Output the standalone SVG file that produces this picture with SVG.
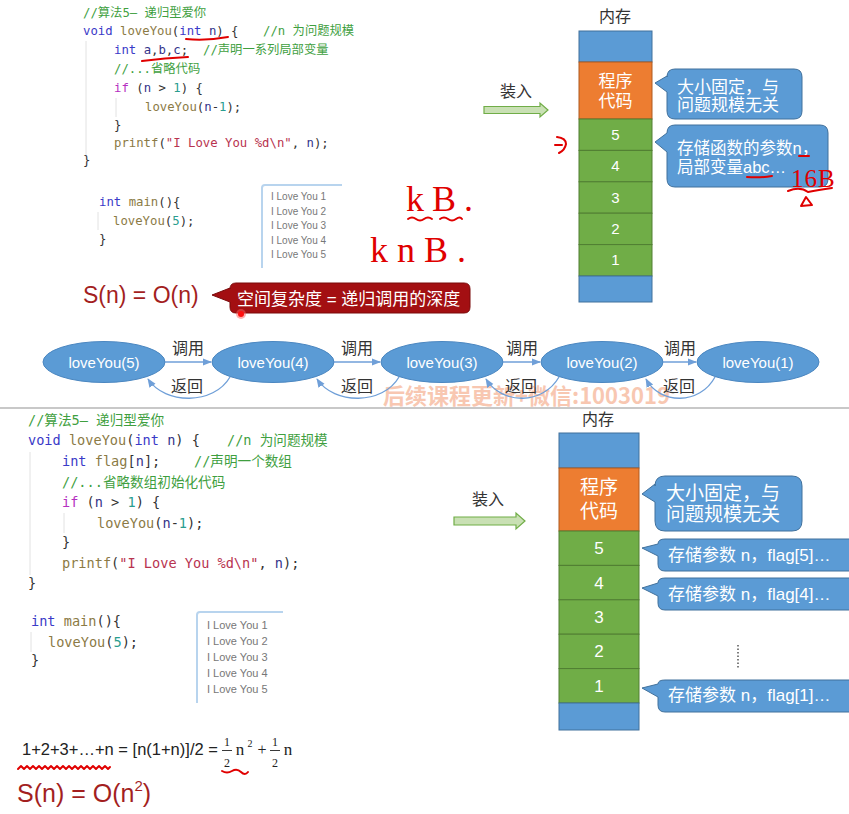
<svg xmlns="http://www.w3.org/2000/svg" width="849" height="814" viewBox="0 0 849 814">
<style>
.code{font-family:"DejaVu Sans Mono","Noto Sans CJK SC",monospace;fill:#333}
.c1{font-size:12.3px}
.c2{font-size:13.6px}
.cm{fill:#3f9f3f;font-family:"DejaVu Sans Mono","Noto Sans CJK SC",monospace}
.kw{fill:#3a3ac8}
.ifk{fill:#b530c0}
.fn{fill:#8b7a45}
.va{fill:#34348a}
.nu{fill:#2a9d8f}
.st{fill:#b8334f}
.out{font-family:"Liberation Sans",Arial,sans-serif;fill:#777}
.cjk{font-family:"Liberation Sans","Noto Sans CJK SC",sans-serif}
.lbl{font-family:"Noto Sans CJK SC",sans-serif;fill:#333;font-size:16px}
.wt{fill:#fff}
.blue{fill:#5b9bd5;stroke:#41719c;stroke-width:1}
.orange{fill:#ed7d31;stroke:#ae5a21;stroke-width:1}
.green{fill:#70ad47;stroke:#507e32;stroke-width:1}
.call{fill:#5b9bd5;stroke:#41719c;stroke-width:1}
.ell{fill:#5b9bd5;stroke:#4a86c0;stroke-width:1}
.con{fill:none;stroke:#6f9fd8;stroke-width:1.3}
.red{fill:none;stroke:#e00000;stroke-width:2;stroke-linecap:round;stroke-linejoin:round}
.hw{font-family:"Liberation Serif",serif;fill:#e00000}
.guide{stroke:#e2e2e2;stroke-width:1}
.box{fill:none;stroke:#b8d4ee;stroke-width:2}
.ld{fill:#c9e0b4;stroke:#70ad47;stroke-width:1.2}
</style>
<defs>
<marker id="ah" viewBox="0 0 10 10" refX="9" refY="5" markerWidth="7" markerHeight="7" orient="auto">
<path d="M0,1 L10,5 L0,9 Z" fill="#6f9fd8"/>
</marker>
<clipPath id="topclip"><rect x="0" y="0" width="849" height="407"/></clipPath>
</defs>
<rect width="849" height="814" fill="#fff"/>

<!-- watermark (behind, clipped at separator) -->
<text x="383" y="404" clip-path="url(#topclip)" font-family="Noto Sans CJK SC,sans-serif" font-size="22" font-weight="bold" fill="#f6b598" opacity="0.75">后续课程更新+微信:1003019</text>
<line x1="0" y1="408" x2="849" y2="408" stroke="#c8c8c8" stroke-width="2"/>

<!-- ===== TOP CODE ===== -->
<g id="code-top" class="code c1">
<line class="guide" x1="86" y1="41" x2="86" y2="155"/>
<line class="guide" x1="116" y1="98" x2="116" y2="117"/>
<text x="83" y="17" class="cm">//算法5— 递归型爱你</text>
<text x="83" y="35"><tspan class="kw">void</tspan> <tspan class="fn">loveYou</tspan>(<tspan class="kw">int</tspan> <tspan class="va">n</tspan>) {<tspan x="263" class="cm">//n 为问题规模</tspan></text>
<text x="114" y="54"><tspan class="kw">int</tspan> <tspan class="va">a</tspan>,<tspan class="va">b</tspan>,<tspan class="va">c</tspan>;<tspan x="203" class="cm">//声明一系列局部变量</tspan></text>
<text x="114" y="73" class="cm">//...省略代码</text>
<text x="114" y="92"><tspan class="ifk">if</tspan> (<tspan class="va">n</tspan> &gt; <tspan class="nu">1</tspan>) {</text>
<text x="145" y="111"><tspan class="fn">loveYou</tspan>(<tspan class="va">n</tspan>-<tspan class="nu">1</tspan>);</text>
<text x="114" y="129">}</text>
<text x="114" y="147"><tspan class="fn">printf</tspan>(<tspan class="st">"I Love You %d\n"</tspan>, <tspan class="va">n</tspan>);</text>
<text x="83" y="164">}</text>
</g>

<g id="main-top" class="code c1">
<line class="guide" x1="98" y1="212" x2="98" y2="230"/>
<text x="99" y="206"><tspan class="kw">int</tspan> <tspan class="fn">main</tspan>(){</text>
<text x="113" y="225"><tspan class="fn">loveYou</tspan>(<tspan class="nu">5</tspan>);</text>
<text x="99" y="243">}</text>
</g>

<g id="output-top">
<path class="box" d="M262,268 V188 Q262,185 265,185 H342"/>
<g class="out" font-size="10">
<text x="271" y="200">I Love You 1</text>
<text x="271" y="214.5">I Love You 2</text>
<text x="271" y="229">I Love You 3</text>
<text x="271" y="243.5">I Love You 4</text>
<text x="271" y="258">I Love You 5</text>
</g>
</g>

<!-- handwritten notes top -->
<g id="notes-top">
<text x="406" y="211" class="hw" font-size="36" letter-spacing="8">kB.</text>
<path class="red" d="M408,219 q4,-3 8,0 t8,0 t8,0 M440,219 q4,-3 8,0 t8,0 t6,0"/>
<text x="370" y="262" class="hw" font-size="36" letter-spacing="9">knB.</text>
<path class="red" d="M186,39 Q206,41 228,37"/>
<path class="red" d="M142,61 Q165,58 188,57"/>
</g>

<g id="complexity-top">
<text x="83" y="303" font-family="Liberation Sans,Arial,sans-serif" font-size="23" fill="#a31f1f">S(n) = O(n)</text>
<path d="M238,283 H464 Q470,283 470,289 V307 Q470,313 464,313 H236 Q230,313 230,307 V302 L212,295 L230,288 V289 Q230,283 236,283 Z" fill="#a30f12" stroke="#7a0a0a" stroke-width="1"/>
<text x="237" y="305" class="cjk wt" font-size="17">空间复杂度 = 递归调用的深度</text>
<circle cx="241" cy="314" r="5" fill="#ff6060" opacity="0.5"/>
<circle cx="241" cy="314" r="3" fill="#ff1010"/>
</g>

<!-- ===== TOP MEMORY ===== -->
<g id="memory-top">
<text x="615" y="22" text-anchor="middle" class="lbl">内存</text>
<rect class="blue" x="579" y="31" width="73" height="31"/>
<rect class="orange" x="579" y="62" width="73" height="57"/>
<text x="615.5" y="87" text-anchor="middle" class="cjk wt" font-size="17">程序</text>
<text x="615.5" y="107" text-anchor="middle" class="cjk wt" font-size="17">代码</text>
<rect class="green" x="579" y="119" width="73" height="31.4"/>
<rect class="green" x="579" y="150.4" width="73" height="31.4"/>
<rect class="green" x="579" y="181.8" width="73" height="31.4"/>
<rect class="green" x="579" y="213.2" width="73" height="31.4"/>
<rect class="green" x="579" y="244.6" width="73" height="31.4"/>
<rect class="blue" x="579" y="276" width="73" height="26"/>
<g class="cjk wt" font-size="15" text-anchor="middle">
<text x="615.5" y="140">5</text>
<text x="615.5" y="171">4</text>
<text x="615.5" y="203">3</text>
<text x="615.5" y="234">2</text>
<text x="615.5" y="265">1</text>
</g>
</g>

<g id="callout-top-1">
<path class="call" d="M675,69 H794 Q802,69 802,77 V111 Q802,119 794,119 H675 Q667,119 667,111 V92 L655,83 L667,76 V77 Q667,69 675,69 Z"/>
<text x="677" y="93" class="cjk wt" font-size="17">大小固定，与</text>
<text x="677" y="111" class="cjk wt" font-size="17">问题规模无关</text>
</g>
<g id="callout-top-2">
<path class="call" d="M675,125 H820 Q828,125 828,133 V179 Q828,187 820,187 H675 Q667,187 667,179 V152 L655,142 L667,133 Q667,125 675,125 Z"/>
<text x="677" y="154" class="cjk wt" font-size="16.5">存储函数的参数n，</text>
<text x="677" y="173" class="cjk wt" font-size="16.5">局部变量abc…</text>
</g>
<g id="notes-top-2">
<path class="red" d="M799,156 H809 M747,177 Q760,178 772,176"/>
<text x="791" y="187" class="hw" font-size="25" letter-spacing="1">16B</text>
<path class="red" d="M788,191 Q800,186 808,192 Q818,190 832,188"/>
<path class="red" d="M801,206 L806,197 L812,205 Z"/>
<path class="red" d="M557,137 Q566,138 566,144 Q565,150 559,153 M555,145 H562"/>
</g>

<g id="load-top">
<text x="500" y="97" class="lbl">装入</text>
</g>

<!-- ===== ELLIPSES ===== -->
<g id="call-5"><ellipse class="ell" cx="104" cy="362" rx="61" ry="20.5"/><text x="104" y="368" text-anchor="middle" class="cjk wt" font-size="15">loveYou(5)</text></g>
<g id="call-4"><ellipse class="ell" cx="273" cy="362" rx="61" ry="20.5"/><text x="273" y="368" text-anchor="middle" class="cjk wt" font-size="15">loveYou(4)</text></g>
<g id="call-3"><ellipse class="ell" cx="442" cy="362" rx="61" ry="20.5"/><text x="442" y="368" text-anchor="middle" class="cjk wt" font-size="15">loveYou(3)</text></g>
<g id="call-2"><ellipse class="ell" cx="602" cy="362" rx="61" ry="20.5"/><text x="602" y="368" text-anchor="middle" class="cjk wt" font-size="15">loveYou(2)</text></g>
<g id="call-1"><ellipse class="ell" cx="758" cy="362" rx="61" ry="20.5"/><text x="758" y="368" text-anchor="middle" class="cjk wt" font-size="15">loveYou(1)</text></g>

<g id="connectors">
<path class="ld" d="M484,106.5 H540 V103 L548,110 L540,117 V113.5 H484 Z"/>
<path class="ld" d="M454,517 H516 V513 L525,521 L516,529 V525 H454 Z"/>
<line class="con" x1="165" y1="362" x2="211" y2="362" marker-end="url(#ah)"/>
<line class="con" x1="334" y1="362" x2="380" y2="362" marker-end="url(#ah)"/>
<line class="con" x1="503" y1="362" x2="540" y2="362" marker-end="url(#ah)"/>
<line class="con" x1="663" y1="362" x2="696" y2="362" marker-end="url(#ah)"/>
<path class="con" d="M230,377 C214,405 165,405 148,379" marker-end="url(#ah)"/>
<path class="con" d="M399,377 C383,405 334,405 317,379" marker-end="url(#ah)"/>
<path class="con" d="M559,377 C543,405 502,405 486,379" marker-end="url(#ah)"/>
<path class="con" d="M715,377 C700,405 660,405 646,379" marker-end="url(#ah)"/>
<g class="lbl" text-anchor="middle">
<text x="188" y="354">调用</text>
<text x="357" y="354">调用</text>
<text x="522" y="354">调用</text>
<text x="680" y="354">调用</text>
<text x="187" y="392">返回</text>
<text x="357" y="392">返回</text>
<text x="521" y="392">返回</text>
<text x="679" y="392">返回</text>
</g>
</g>

<!-- ===== BOTTOM CODE ===== -->
<g id="code-bottom" class="code c2">
<line class="guide" x1="30" y1="452" x2="30" y2="575"/>
<line class="guide" x1="64" y1="513" x2="64" y2="533"/>
<text x="28" y="425" class="cm">//算法5— 递归型爱你</text>
<text x="28" y="445"><tspan class="kw">void</tspan> <tspan class="fn">loveYou</tspan>(<tspan class="kw">int</tspan> <tspan class="va">n</tspan>) {<tspan x="227" class="cm">//n 为问题规模</tspan></text>
<text x="62" y="466"><tspan class="kw">int</tspan> <tspan class="fn">flag</tspan>[<tspan class="va">n</tspan>];<tspan x="194" class="cm">//声明一个数组</tspan></text>
<text x="62" y="487" class="cm">//...省略数组初始化代码</text>
<text x="62" y="507"><tspan class="ifk">if</tspan> (<tspan class="va">n</tspan> &gt; <tspan class="nu">1</tspan>) {</text>
<text x="97" y="528"><tspan class="fn">loveYou</tspan>(<tspan class="va">n</tspan>-<tspan class="nu">1</tspan>);</text>
<text x="62" y="547">}</text>
<text x="62" y="568"><tspan class="fn">printf</tspan>(<tspan class="st">"I Love You %d\n"</tspan>, <tspan class="va">n</tspan>);</text>
<text x="28" y="588">}</text>
</g>

<g id="main-bottom" class="code c2">
<line class="guide" x1="31" y1="632" x2="31" y2="652"/>
<text x="31" y="626"><tspan class="kw">int</tspan> <tspan class="fn">main</tspan>(){</text>
<text x="48" y="647"><tspan class="fn">loveYou</tspan>(<tspan class="nu">5</tspan>);</text>
<text x="31" y="665">}</text>
</g>

<g id="output-bottom">
<path class="box" d="M197,703 V615 Q197,612 200,612 H283"/>
<g class="out" font-size="11">
<text x="207" y="629">I Love You 1</text>
<text x="207" y="645">I Love You 2</text>
<text x="207" y="661">I Love You 3</text>
<text x="207" y="677">I Love You 4</text>
<text x="207" y="693">I Love You 5</text>
</g>
</g>

<g id="formula">
<text x="22" y="755" font-family="Liberation Sans,Arial,sans-serif" font-size="16.5" fill="#222">1+2+3+…+n = [n(1+n)]/2 =</text>
<g font-family="Liberation Serif,serif" fill="#222" text-anchor="middle">
<text x="227" y="746" font-size="12">1</text>
<line x1="222" y1="750.5" x2="232" y2="750.5" stroke="#222" stroke-width="0.9"/>
<text x="227" y="767" font-size="12">2</text>
<text x="240" y="755" font-size="17">n</text>
<text x="250" y="747" font-size="10">2</text>
<text x="262" y="755" font-size="16">+</text>
<text x="275" y="746" font-size="12">1</text>
<line x1="270" y1="750.5" x2="280" y2="750.5" stroke="#222" stroke-width="0.9"/>
<text x="275" y="767" font-size="12">2</text>
<text x="288" y="755" font-size="17">n</text>
</g>
<path class="red" d="M18,769 l3,-3 l3,3 l3,-3 l3,3 l3,-3 l3,3 l3,-3 l3,3 l3,-3 l3,3 l3,-3 l3,3 l3,-3 l3,3 l3,-3 l3,3 l3,-3 l3,3 l3,-3 l3,3 l3,-3 l3,3 l3,-3 l3,3 l3,-3 l3,3 l3,-3 l3,3 l3,-3 l3,3 l2,-2"/>
<path class="red" d="M222,771 q5,3 10,0 t9,1 t7,0"/>
<text x="17" y="802" font-family="Liberation Sans,Arial,sans-serif" font-size="25" fill="#a31f1f">S(n) = O(n<tspan font-size="15" dy="-11">2</tspan><tspan dy="11">)</tspan></text>
</g>

<!-- ===== BOTTOM MEMORY ===== -->
<g id="memory-bottom">
<text x="598" y="425" text-anchor="middle" class="lbl" font-size="17">内存</text>
<rect class="blue" x="559" y="433" width="80" height="35"/>
<rect class="orange" x="559" y="468" width="80" height="63"/>
<text x="599" y="494" text-anchor="middle" class="cjk wt" font-size="19">程序</text>
<text x="599" y="518" text-anchor="middle" class="cjk wt" font-size="19">代码</text>
<rect class="green" x="559" y="531" width="80" height="34.4"/>
<rect class="green" x="559" y="565.4" width="80" height="34.4"/>
<rect class="green" x="559" y="599.8" width="80" height="34.4"/>
<rect class="green" x="559" y="634.2" width="80" height="34.4"/>
<rect class="green" x="559" y="668.6" width="80" height="34.4"/>
<rect class="blue" x="559" y="703" width="80" height="27"/>
<g class="cjk wt" font-size="17" text-anchor="middle">
<text x="599" y="554">5</text>
<text x="599" y="589">4</text>
<text x="599" y="623">3</text>
<text x="599" y="657">2</text>
<text x="599" y="692">1</text>
</g>
<line x1="738" y1="645" x2="738" y2="668" stroke="#555" stroke-width="1.5" stroke-dasharray="1.5,2"/>
</g>

<g id="load-bottom">
<text x="472" y="505" class="lbl" font-size="17">装入</text>
</g>

<g id="callout-bottom-1">
<path class="call" d="M665,476 H792 Q802,476 802,486 V521 Q802,531 792,531 H665 Q655,531 655,521 V502 L642,494 L655,484 V486 Q655,476 665,476 Z"/>
<text x="666" y="500" class="cjk wt" font-size="19">大小固定，与</text>
<text x="666" y="521" class="cjk wt" font-size="19">问题规模无关</text>
</g>
<g id="callout-flag5">
<path class="call" d="M665,539 H860 V571 H665 Q658,571 658,564 V556 L642,548 L658,544 Q658,539 665,539 Z"/>
<text x="668" y="561" class="cjk wt" font-size="17">存储参数 n，flag[5]…</text>
</g>
<g id="callout-flag4">
<path class="call" d="M665,578 H860 V610 H665 Q658,610 658,603 V596 L642,588 L658,583 Q658,578 665,578 Z"/>
<text x="668" y="600" class="cjk wt" font-size="17">存储参数 n，flag[4]…</text>
</g>
<g id="callout-flag1">
<path class="call" d="M665,680 H860 V712 H665 Q658,712 658,705 V697 L642,688 L658,684 Q658,680 665,680 Z"/>
<text x="668" y="701" class="cjk wt" font-size="17">存储参数 n，flag[1]…</text>
</g>
</svg>
